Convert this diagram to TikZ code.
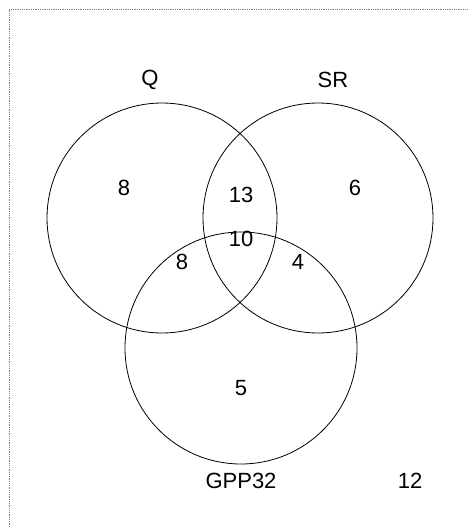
\documentclass[tikz,border=0pt]{standalone}
\usepackage{fontspec}
\setmainfont{Liberation Sans}
\usepackage{tikz}

\tikzset{
    setcircle/.style={draw=black, line width=0.8pt},
    count/.style={font=\fontsize{22}{22}\selectfont},
}

\begin{document}
\begin{tikzpicture}[x=1pt,y=-1pt]
        \useasboundingbox (0,0) rectangle (468,527);
        % --- Frame ---
        \draw[gray, line width=0.8pt, densely dotted] (9,527) -- (9,9) -- (468,9);
        % --- Sets ---
        \begin{scope}
            \draw[setcircle] (162,218) circle[radius=115pt];
            \draw[setcircle] (318,218) circle[radius=115pt];
            \draw[setcircle] (241,348) circle[radius=116pt];
        \end{scope}
        % --- Set names ---
        \node[count] (q)   at (150,80)  {Q};
        \node[count] (sr)  at (333,80)  {SR};
        \node[count] (gpp) at (241,481) {GPP32};
        % --- Counts ---
        \node[count] (q only)   at (124,188) {8};
        \node[count] (q sr)     at (241,195) {13};
        \node[count] (sr only)  at (355,188) {6};
        \node[count] (all)      at (241,239) {10};
        \node[count] (q gpp)    at (182,262) {8};
        \node[count] (sr gpp)   at (298,262) {4};
        \node[count] (gpp only) at (241,388) {5};
        \node[count] (none)     at (410,481) {12};
    \end{tikzpicture}
\end{document}
